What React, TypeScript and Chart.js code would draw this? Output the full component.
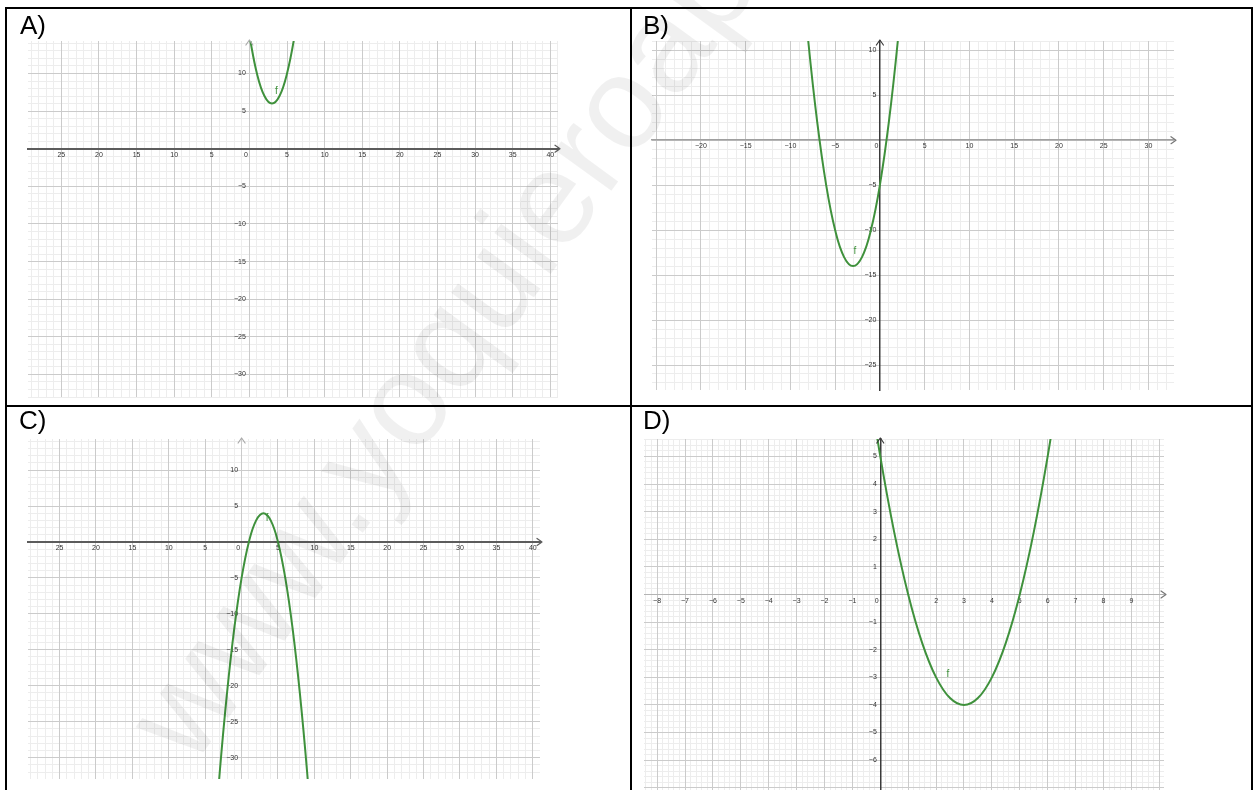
import React, { useEffect, useRef } from 'react';
import { Chart, registerables } from 'chart.js';

Chart.register(...registerables);

// ---------- Data ----------
// Panel A
const A_CURVE_X = [0, 1, 2, 3, 4, 5, 6, 7];
const A_CURVE_Y = [15, 10, 7, 6, 7, 10, 15, 22];
const A_X_TICKS = [-25, -20, -15, -10, -5, 0, 5, 10, 15, 20, 25, 30, 35, 40];
const A_X_LABELS = ['25', '20', '15', '10', '5', '0', '5', '10', '15', '20', '25', '30', '35', '40'];
const A_Y_TICKS = [10, 5, -5, -10, -15, -20, -25, -30];
const A_Y_LABELS = ['10', '5', '−5', '−10', '−15', '−20', '−25', '−30'];

// Panel B
const B_CURVE_X = [-9, -8, -7, -6, -5, -4, -3, -2, -1, 0, 1, 2, 3];
const B_CURVE_Y = [22, 11, 2, -5, -10, -13, -14, -13, -10, -5, 2, 11, 22];
const B_X_TICKS = [-20, -15, -10, -5, 0, 5, 10, 15, 20, 25, 30];
const B_X_LABELS = ['−20', '−15', '−10', '−5', '0', '5', '10', '15', '20', '25', '30'];
const B_Y_TICKS = [10, 5, -5, -10, -15, -20, -25];
const B_Y_LABELS = ['10', '5', '−5', '−10', '−15', '−20', '−25'];

// Panel C
const C_CURVE_X = [-4, -3, -2, -1, 0, 1, 2, 3, 4, 5, 6, 7, 8, 9, 10];
const C_CURVE_Y = [-45, -32, -21, -12, -5, 0, 3, 4, 3, 0, -5, -12, -21, -32, -45];
const C_X_TICKS = [-25, -20, -15, -10, -5, 0, 5, 10, 15, 20, 25, 30, 35, 40];
const C_X_LABELS = ['25', '20', '15', '10', '5', '0', '5', '10', '15', '20', '25', '30', '35', '40'];
const C_Y_TICKS = [10, 5, -5, -10, -15, -20, -25, -30];
const C_Y_LABELS = ['10', '5', '−5', '−10', '−15', '−20', '−25', '−30'];

// Panel D
const D_CURVE_X = [-0.5, 0, 0.5, 1, 1.5, 2, 2.5, 3, 3.5, 4, 4.5, 5, 5.5, 6, 6.5];
const D_CURVE_Y = [8.25, 5, 2.25, 0, -1.75, -3, -3.75, -4, -3.75, -3, -1.75, 0, 2.25, 5, 8.25];
const D_X_TICKS = [-8, -7, -6, -5, -4, -3, -2, -1, 0, 2, 3, 4, 5, 6, 7, 8, 9];
const D_X_LABELS = ['−8', '−7', '−6', '−5', '−4', '−3', '−2', '−1', '0', '2', '3', '4', '5', '6', '7', '8', '9'];
const D_Y_TICKS = [5, 4, 3, 2, 1, -1, -2, -3, -4, -5, -6];
const D_Y_LABELS = ['5', '4', '3', '2', '1', '−1', '−2', '−3', '−4', '−5', '−6'];

const PANEL_LETTERS = ['A)', 'B)', 'C)', 'D)'];
const WATERMARK = 'www.yoquieroaprobar.es';

// ---------- Styles ----------
const FONT = '"Liberation Sans", Arial, sans-serif';
const GREEN = '#3f913c';
const MAJOR = '#cbcbcb';
const MINOR = '#ededed';
const PAD = 10;

type Panel = {
  left: number; top: number; width: number; height: number;
  xMin: number; xMax: number; yMin: number; yMax: number;
  minor: number; major: number;
  cx: number[]; cy: number[];
  xTicks: number[]; xLabels: string[]; yTicks: number[]; yLabels: string[];
  fx: number; fy: number;
  xAxisColor: string; xAxisWidth: number;
  yAxisColor: string | null; yAxisWidth: number;
  xArrow: string; yArrow: string;
};

const PANELS: Panel[] = [
  {
    left: 28, top: 41, width: 530, height: 356,
    xMin: -29.43, xMax: 41.02, yMin: -33.0, yMax: 14.32, minor: 1, major: 5,
    cx: A_CURVE_X, cy: A_CURVE_Y,
    xTicks: A_X_TICKS, xLabels: A_X_LABELS, yTicks: A_Y_TICKS, yLabels: A_Y_LABELS,
    fx: 3.6, fy: 7.6,
    xAxisColor: '#5c5c5c', xAxisWidth: 2, yAxisColor: null, yAxisWidth: 1,
    xArrow: '#5c5c5c', yArrow: '#aaaaaa',
  },
  {
    left: 652, top: 41, width: 522, height: 349,
    xMin: -25.46, xMax: 32.86, yMin: -27.78, yMax: 11.03, minor: 1, major: 5,
    cx: B_CURVE_X, cy: B_CURVE_Y,
    xTicks: B_X_TICKS, xLabels: B_X_LABELS, yTicks: B_Y_TICKS, yLabels: B_Y_LABELS,
    fx: -2.8, fy: -12.4,
    xAxisColor: '#a0a0a0', xAxisWidth: 1.5, yAxisColor: '#3a3a3a', yAxisWidth: 1.5,
    xArrow: '#777777', yArrow: '#3a3a3a',
  },
  {
    left: 28, top: 439, width: 512, height: 340,
    xMin: -29.34, xMax: 40.99, yMin: -32.97, yMax: 14.32, minor: 1, major: 5,
    cx: C_CURVE_X, cy: C_CURVE_Y,
    xTicks: C_X_TICKS, xLabels: C_X_LABELS, yTicks: C_Y_TICKS, yLabels: C_Y_LABELS,
    fx: 3.5, fy: 3.3,
    xAxisColor: '#5c5c5c', xAxisWidth: 2, yAxisColor: null, yAxisWidth: 1,
    xArrow: '#5c5c5c', yArrow: '#aaaaaa',
  },
  {
    left: 644, top: 439, width: 520, height: 351,
    xMin: -8.47, xMax: 10.17, yMin: -7.08, yMax: 5.63, minor: 0.2, major: 1,
    cx: D_CURVE_X, cy: D_CURVE_Y,
    xTicks: D_X_TICKS, xLabels: D_X_LABELS, yTicks: D_Y_TICKS, yLabels: D_Y_LABELS,
    fx: 2.42, fy: -2.9,
    xAxisColor: '#b4b4b4', xAxisWidth: 1, yAxisColor: '#3a3a3a', yAxisWidth: 1.5,
    xArrow: '#777777', yArrow: '#3a3a3a',
  },
];

const findLabel = (vals: number[], labels: string[], v: number) => {
  const i = vals.findIndex((t) => Math.abs(t - v) < 1e-6);
  return i >= 0 ? labels[i] : '';
};

const decorPlugin = {
  id: 'decor',
  afterDatasetsDraw(chart: any, _args: any, o: any) {
    const { ctx, chartArea: a } = chart;
    const sx = chart.scales.x;
    const sy = chart.scales.y;
    const px0 = sx.getPixelForValue(0);
    const py0 = sy.getPixelForValue(0);
    ctx.save();
    ctx.lineCap = 'round';
    ctx.lineJoin = 'round';
    ctx.lineWidth = 1.2;
    // x-axis arrow
    ctx.strokeStyle = o.xArrow;
    ctx.beginPath();
    ctx.moveTo(a.right - 3, py0 - 3.5);
    ctx.lineTo(a.right + 2, py0);
    ctx.lineTo(a.right - 3, py0 + 3.5);
    ctx.stroke();
    // y-axis arrow
    ctx.strokeStyle = o.yArrow;
    ctx.beginPath();
    ctx.moveTo(px0 - 3.5, a.top + 4);
    ctx.lineTo(px0, a.top - 1);
    ctx.lineTo(px0 + 3.5, a.top + 4);
    ctx.stroke();
    // function name
    ctx.fillStyle = GREEN;
    ctx.font = `10px ${FONT}`;
    ctx.textAlign = 'center';
    ctx.textBaseline = 'middle';
    ctx.fillText('f', sx.getPixelForValue(o.fx), sy.getPixelForValue(o.fy));
    ctx.restore();
  },
};

function buildConfig(p: Panel): any {
  const tickFont = { size: 7, family: FONT };
  return {
    type: 'line',
    data: {
      datasets: [
        {
          data: p.cx.map((x, i) => ({ x, y: p.cy[i] })),
          xAxisID: 'x',
          yAxisID: 'y',
          borderColor: GREEN,
          borderWidth: 2,
          pointRadius: 0,
          tension: 0.4,
          fill: false,
        },
      ],
    },
    plugins: [decorPlugin],
    options: {
      responsive: false,
      animation: false,
      events: [],
      layout: { padding: PAD },
      plugins: {
        legend: { display: false },
        tooltip: { enabled: false },
        decor: { xArrow: p.xArrow, yArrow: p.yArrow, fx: p.fx, fy: p.fy },
      },
      scales: {
        xm: {
          type: 'linear', position: 'bottom', min: p.xMin, max: p.xMax,
          ticks: { display: false, stepSize: p.minor, includeBounds: false },
          grid: { color: MINOR, drawTicks: false, lineWidth: 1, z: -2 },
          border: { display: false },
        },
        ym: {
          type: 'linear', position: 'left', min: p.yMin, max: p.yMax,
          ticks: { display: false, stepSize: p.minor, includeBounds: false },
          grid: { color: MINOR, drawTicks: false, lineWidth: 1, z: -2 },
          border: { display: false },
        },
        x: {
          type: 'linear', position: { y: 0 }, min: p.xMin, max: p.xMax,
          ticks: {
            stepSize: p.major, includeBounds: false, autoSkip: false, maxRotation: 0,
            padding: 2, font: tickFont, color: '#333333',
            callback: (v: number) => {
              const s = findLabel(p.xTicks, p.xLabels, v);
              return s === '0' ? '0\u2003' : s;
            },
          },
          grid: { color: MAJOR, drawTicks: false, lineWidth: 1, z: -1 },
          border: { display: true, color: p.xAxisColor, width: p.xAxisWidth },
        },
        y: {
          type: 'linear', position: { x: 0 }, min: p.yMin, max: p.yMax,
          ticks: {
            stepSize: p.major, includeBounds: false, autoSkip: false,
            padding: 2, font: tickFont, color: '#333333',
            callback: (v: number) => {
              const s = findLabel(p.yTicks, p.yLabels, v);
              return s ? s + '\u2002' : '';
            },
          },
          grid: { color: MAJOR, drawTicks: false, lineWidth: 1, z: -1 },
          border: {
            display: p.yAxisColor !== null,
            color: p.yAxisColor || MAJOR,
            width: p.yAxisWidth,
          },
        },
      },
    },
  };
}

function PanelChart({ p }: { p: Panel }) {
  const ref = useRef<HTMLCanvasElement | null>(null);
  useEffect(() => {
    if (!ref.current) return;
    const chart = new Chart(ref.current, buildConfig(p));
    return () => chart.destroy();
  }, [p]);
  const w = p.width + 2 * PAD;
  const h = p.height + 2 * PAD;
  return (
    <canvas
      ref={ref}
      width={w}
      height={h}
      style={{ position: 'absolute', left: p.left - PAD, top: p.top - PAD, width: w, height: h, zIndex: 1 }}
    />
  );
}

const line = (left: number, top: number, width: number, height: number): React.CSSProperties => ({
  position: 'absolute', left, top, width, height, background: '#000', zIndex: 3,
});

const LETTER_POS = [
  { left: 20, top: 12 },
  { left: 643, top: 12 },
  { left: 19, top: 407 },
  { left: 643, top: 407 },
];

export default function App() {
  return (
    <div
      style={{
        position: 'absolute', left: 0, top: 0, width: 1255, height: 790,
        overflow: 'hidden', background: '#fff', fontFamily: FONT,
      }}
    >
      {PANELS.map((p, i) => (
        <PanelChart key={i} p={p} />
      ))}
      <svg
        width={1255}
        height={790}
        style={{ position: 'absolute', left: 0, top: 0, zIndex: 2, pointerEvents: 'none' }}
      >
        <text
          x={192}
          y={768}
          transform="rotate(-54 192 768)"
          fontSize={132}
          fontFamily={FONT}
          fill="#000"
          fillOpacity={0.06}
        >
          {WATERMARK}
        </text>
      </svg>
      <div style={line(5, 7, 1248, 2)} />
      <div style={line(5, 7, 2, 783)} />
      <div style={line(630, 7, 2, 783)} />
      <div style={line(1251, 7, 2, 783)} />
      <div style={line(5, 405, 1248, 2)} />
      {PANEL_LETTERS.map((t, i) => (
        <div
          key={t}
          style={{
            position: 'absolute', left: LETTER_POS[i].left, top: LETTER_POS[i].top,
            fontSize: 26, lineHeight: '26px', color: '#000', zIndex: 3, whiteSpace: 'nowrap',
          }}
        >
          {t}
        </div>
      ))}
    </div>
  );
}
